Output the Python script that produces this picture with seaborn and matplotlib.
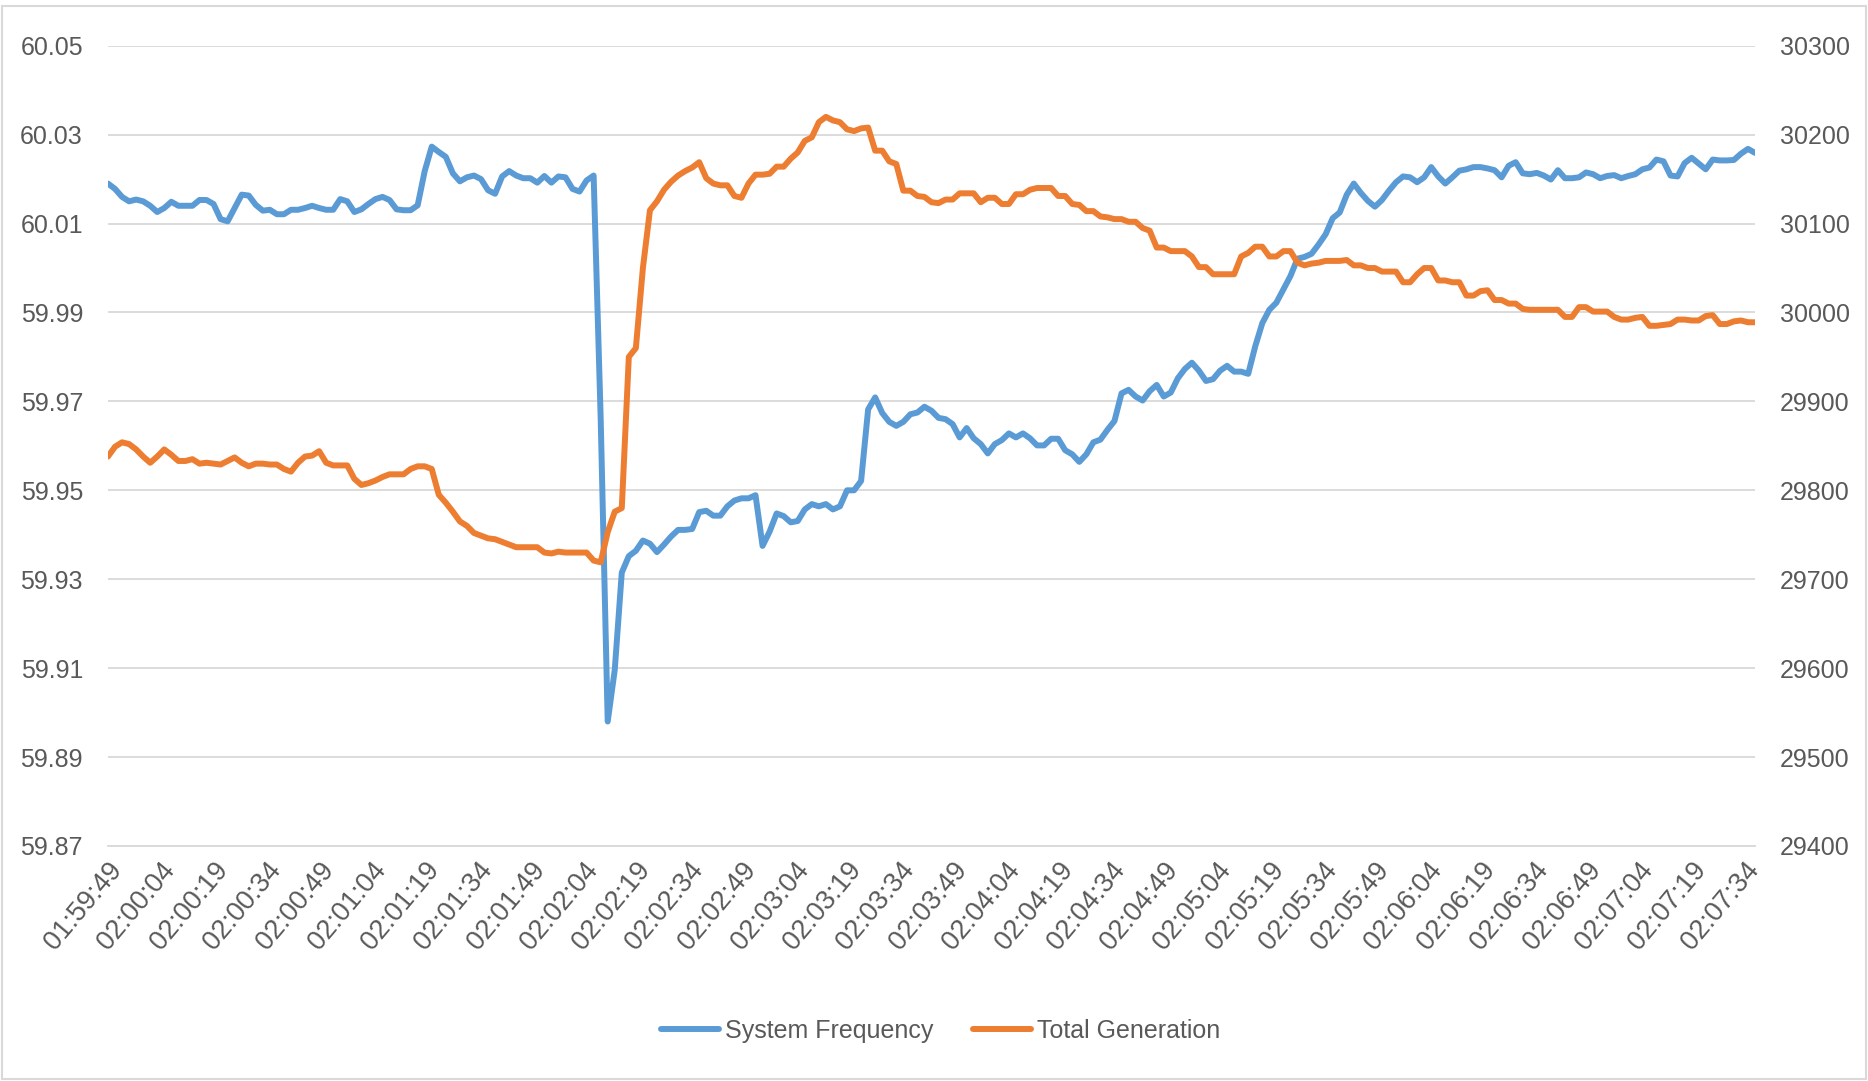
import numpy as np
import pandas as pd
import matplotlib
matplotlib.use('Agg')
import matplotlib.pyplot as plt
import seaborn as sns

# Lecturas cada 2 s desde 01:59:49 (segundos transcurridos)
sample_s = list(range(0, 469, 2))

# Frecuencia del sistema (Hz), eje izquierdo
freq_hz = [
    60.019, 60.0178, 60.016, 60.015, 60.0154, 60.015, 60.014, 60.0126, 60.0135, 60.0149,
    60.014, 60.014, 60.014, 60.0153, 60.0153, 60.0144, 60.011, 60.0105, 60.0135, 60.0165,
    60.0163, 60.0142, 60.0129, 60.0131, 60.0121, 60.0121, 60.0131, 60.0131, 60.0135, 60.014,
    60.0135, 60.0131, 60.0131, 60.0155, 60.015, 60.0126, 60.0132, 60.0144, 60.0155, 60.016,
    60.0153, 60.0132, 60.013, 60.013, 60.0141, 60.0218, 60.0273, 60.0261, 60.025, 60.0213,
    60.0195, 60.0204, 60.0208, 60.02, 60.0175, 60.0167, 60.0206, 60.0218, 60.0208, 60.0202,
    60.0202, 60.0192, 60.0207, 60.0192, 60.0206, 60.0204, 60.0178, 60.0172, 60.0197, 60.0208,
    59.9663, 59.898, 59.9096, 59.9315, 59.9352, 59.9364, 59.9387, 59.938, 59.9361, 59.9378,
    59.9396, 59.9411, 59.9411, 59.9413, 59.9451, 59.9454, 59.9443, 59.9443, 59.9464, 59.9477,
    59.9482, 59.9482, 59.9489, 59.9375, 59.9407, 59.9448, 59.9442, 59.9428, 59.9431, 59.9457,
    59.9469, 59.9464, 59.9469, 59.9457, 59.9464, 59.95, 59.95, 59.9521, 59.9682, 59.9709,
    59.9674, 59.9654, 59.9645, 59.9654, 59.9671, 59.9675, 59.9688, 59.9679, 59.9663, 59.966,
    59.9649, 59.9619, 59.964, 59.9617, 59.9604, 59.9583, 59.9604, 59.9613, 59.9628, 59.9619,
    59.9628, 59.9617, 59.9601, 59.9601, 59.9616, 59.9616, 59.959, 59.9581, 59.9564, 59.9581,
    59.9608, 59.9614, 59.9636, 59.9656, 59.9718, 59.9726, 59.9711, 59.9702, 59.9723, 59.9737,
    59.9711, 59.972, 59.9752, 59.9773, 59.9787, 59.9769, 59.9746, 59.975, 59.9769, 59.978,
    59.9767, 59.9767, 59.9762, 59.9824, 59.9876, 59.9906, 59.9922, 59.9952, 59.9982, 60.0021,
    60.0025, 60.0032, 60.0053, 60.0076, 60.0112, 60.0125, 60.0165, 60.019, 60.0169, 60.0151,
    60.0138, 60.0153, 60.0174, 60.0193, 60.0206, 60.0204, 60.0193, 60.0204, 60.0227, 60.0206,
    60.019, 60.0204, 60.0219, 60.0222, 60.0227, 60.0227, 60.0224, 60.022, 60.0204, 60.023,
    60.0238, 60.0213, 60.0211, 60.0214, 60.0208, 60.0199, 60.022, 60.0202, 60.0202, 60.0204,
    60.0215, 60.0211, 60.0202, 60.0207, 60.0209, 60.0202, 60.0207, 60.0211, 60.0222, 60.0226,
    60.0244, 60.024, 60.0208, 60.0206, 60.0236, 60.0248, 60.0235, 60.0222, 60.0244, 60.0242,
    60.0242, 60.0243, 60.0257, 60.0268, 60.0259,
]

# Generacion total (MW), eje derecho
gen_mw = [
    29838, 29849, 29854, 29852, 29846, 29838, 29831, 29838, 29846, 29840,
    29833, 29833, 29835, 29830, 29831, 29830, 29829, 29833, 29837, 29831,
    29827, 29830, 29830, 29829, 29829, 29824, 29821, 29831, 29838, 29839,
    29844, 29831, 29828, 29828, 29828, 29813, 29806, 29808, 29811, 29815,
    29818, 29818, 29818, 29824, 29827, 29827, 29824, 29795, 29786, 29776,
    29765, 29760, 29752, 29749, 29746, 29745, 29742, 29739, 29736, 29736,
    29736, 29736, 29730, 29729, 29731, 29730, 29730, 29730, 29730, 29721,
    29719, 29753, 29776, 29780, 29950, 29960, 30050, 30115, 30125, 30138,
    30147, 30154, 30159, 30163, 30169, 30151, 30145, 30143, 30143, 30131,
    30129, 30145, 30155, 30155, 30156, 30164, 30164, 30173, 30180, 30193,
    30197, 30214, 30220, 30216, 30214, 30206, 30204, 30207, 30208, 30182,
    30182, 30170, 30167, 30137, 30137, 30131, 30130, 30124, 30123, 30127,
    30127, 30134, 30134, 30134, 30124, 30129, 30129, 30122, 30122, 30133,
    30133, 30138, 30140, 30140, 30140, 30131, 30131, 30122, 30121, 30114,
    30114, 30108, 30107, 30105, 30105, 30102, 30102, 30095, 30092, 30073,
    30073, 30069, 30069, 30069, 30063, 30051, 30051, 30043, 30043, 30043,
    30043, 30063, 30067, 30074, 30074, 30063, 30063, 30069, 30069, 30056,
    30053, 30055, 30056, 30058, 30058, 30058, 30059, 30053, 30053, 30050,
    30050, 30046, 30046, 30046, 30034, 30034, 30043, 30050, 30050, 30036,
    30036, 30034, 30034, 30019, 30019, 30024, 30025, 30014, 30014, 30010,
    30010, 30004, 30003, 30003, 30003, 30003, 30003, 29995, 29995, 30006,
    30006, 30001, 30001, 30001, 29995, 29992, 29992, 29994, 29995, 29985,
    29985, 29986, 29987, 29992, 29992, 29991, 29991, 29996, 29997, 29987,
    29987, 29990, 29991, 29989, 29989,
]

# Etiquetas del eje X (cada 15 s)
tick_labels = [
    '01:59:49', '02:00:04', '02:00:19', '02:00:34', '02:00:49', '02:01:04', '02:01:19', '02:01:34',
    '02:01:49', '02:02:04', '02:02:19', '02:02:34', '02:02:49', '02:03:04', '02:03:19', '02:03:34',
    '02:03:49', '02:04:04', '02:04:19', '02:04:34', '02:04:49', '02:05:04', '02:05:19', '02:05:34',
    '02:05:49', '02:06:04', '02:06:19', '02:06:34', '02:06:49', '02:07:04', '02:07:19', '02:07:34',
]
freq_ticks = [59.87, 59.89, 59.91, 59.93, 59.95, 59.97, 59.99, 60.01, 60.03, 60.05]
gen_ticks = [29400, 29500, 29600, 29700, 29800, 29900, 30000, 30100, 30200, 30300]

data = pd.DataFrame({'s': sample_s, 'freq': freq_hz, 'gen': gen_mw})

sns.set_style('white')
plt.rcParams['font.family'] = ['Liberation Sans', 'DejaVu Sans']
fs = 18
txt = '#595959'
grid_c = '#D9D9D9'

fig = plt.figure(figsize=(18.68, 10.81), dpi=100)
ax = fig.add_axes([0.0578, 0.2174, 0.8817, 0.7403])
ax2 = ax.twinx()

sns.lineplot(data=data, x='s', y='freq', ax=ax, color='#5B9BD5', linewidth=4.3,
             label='System Frequency', legend=False)
sns.lineplot(data=data, x='s', y='gen', ax=ax2, color='#ED7D31', linewidth=4.3,
             label='Total Generation', legend=False)

ax.set_xlim(0, 468)
ax.set_ylim(freq_ticks[0], freq_ticks[-1])
ax2.set_ylim(gen_ticks[0], gen_ticks[-1])
ax.set_yticks(freq_ticks)
ax.set_yticklabels([f'{v:.2f}' for v in freq_ticks])
ax2.set_yticks(gen_ticks)
ax2.set_yticklabels([str(v) for v in gen_ticks])

ax.set_xticks(np.arange(0, 466, 15))
ax.set_xticklabels(tick_labels)
ax.set_xticks(np.arange(0, 469, 4), minor=True)
plt.setp(ax.get_xticklabels(), rotation=50, ha='right', va='top', rotation_mode='anchor')

ax.set_xlabel('')
ax.set_ylabel('')
ax2.set_ylabel('')

ax.tick_params(axis='x', which='major', length=0, pad=8, labelsize=19.5, labelcolor=txt)
ax.tick_params(axis='x', which='minor', length=7, width=1.2, color=grid_c, direction='out')
ax.tick_params(axis='y', length=0, pad=18, labelsize=fs, labelcolor=txt)
ax2.tick_params(axis='y', length=0, pad=18, labelsize=fs, labelcolor=txt)

ax.yaxis.grid(True, color=grid_c, linewidth=1.3)
ax.xaxis.grid(False)
ax2.grid(False)

for sp in ax.spines.values():
    sp.set_visible(False)
for sp in ax2.spines.values():
    sp.set_visible(False)
ax.spines['bottom'].set_visible(True)
ax.spines['bottom'].set_color(grid_c)
ax.spines['bottom'].set_linewidth(1.3)

h1, l1 = ax.get_legend_handles_labels()
h2, l2 = ax2.get_legend_handles_labels()
fig.legend(h1 + h2, l1 + l2, loc='center', bbox_to_anchor=(0.5035, 0.0467), ncol=2,
           frameon=False, fontsize=fs, handlelength=2.3, handletextpad=0.24,
           columnspacing=1.6, labelcolor=txt)

# Borde del area del grafico
fig.add_artist(plt.Rectangle((2 / 1868, 2 / 1081), 1864 / 1868, 1073 / 1081,
                             transform=fig.transFigure, fill=False,
                             edgecolor=grid_c, linewidth=1.5))

fig.savefig('out.png', dpi=100)
